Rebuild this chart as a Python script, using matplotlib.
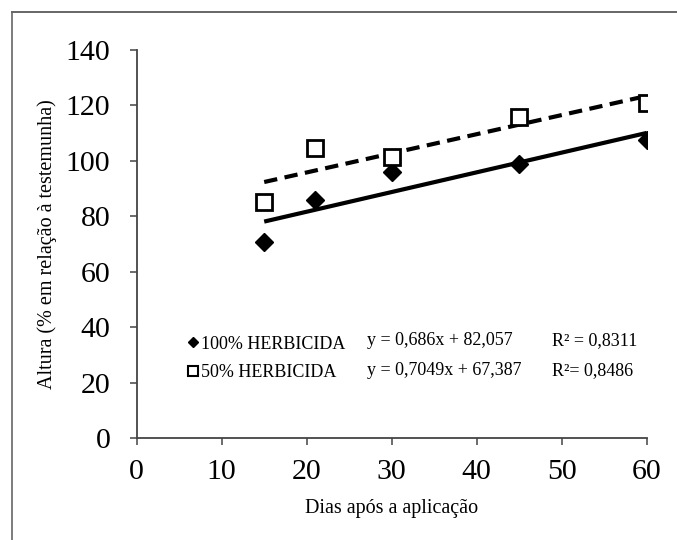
import numpy as np
import matplotlib
matplotlib.use('Agg')
import matplotlib.pyplot as plt
from matplotlib.lines import Line2D

plt.rcParams['font.family'] = ['Liberation Serif', 'DejaVu Serif']

# dados
dias = np.array([15, 21, 30, 45, 60])
h100 = np.array([70.6, 85.7, 95.9, 98.9, 107.6])
h50 = np.array([85.3, 104.7, 101.3, 115.8, 121.0])
lab100 = '100% HERBICIDA'
lab50 = '50% HERBICIDA'
eq100 = 'y = 0,686x + 82,057'
eq50 = 'y = 0,7049x + 67,387'
r100 = 'R² = 0,8311'
r50 = 'R²= 0,8486'

fig = plt.figure(figsize=(6.77, 5.40), dpi=100)
ax = fig.add_axes([0.2019, 0.1889, 0.7534, 0.7185])

# linhas de tendencia (ajuste linear, como no excel)
xx = np.array([dias.min(), dias.max()])
c100 = np.polyfit(dias, h100, 1)
c50 = np.polyfit(dias, h50, 1)
ax.plot(xx, np.polyval(c100, xx), '-', color='black', lw=3, solid_capstyle='butt')
ax.plot(xx, np.polyval(c50, xx), '--', color='black', lw=3, dashes=(3.2, 1.8))

ax.plot(dias, h100, 'D', color='black', ms=9.5, zorder=3)
ax.plot(dias, h50, 's', mfc='white', mec='black', mew=2, ms=11, zorder=3)

ax.set_xlim(0, 60)
ax.set_ylim(0, 140)
ax.set_xticks(range(0, 61, 10))
ax.set_yticks(range(0, 141, 20))
for s in ['top', 'right']:
    ax.spines[s].set_visible(False)
for s in ['left', 'bottom']:
    ax.spines[s].set_color('#444444')
    ax.spines[s].set_linewidth(1.3)
ax.tick_params(axis='both', direction='out', length=5, width=1.1, color='#444444', labelsize=21.5)
ax.tick_params(axis='y', pad=14)
ax.tick_params(axis='x', pad=10)

ax.set_xlabel('Dias após a aplicação', fontsize=14.5, labelpad=10)
ax.set_ylabel('Altura (% em relação à testemunha)', fontsize=14.5, labelpad=6)

# legenda
hd = [Line2D([], [], marker='D', color='black', ls='none', ms=5),
      Line2D([], [], marker='s', mfc='white', mec='black', mew=1.5, ls='none', ms=6.5)]
ax.legend(hd, [lab100, lab50], loc='center left', bbox_to_anchor=(0.085, 0.205),
          frameon=False, fontsize=13, handlelength=0.6, handletextpad=0.15,
          labelspacing=0.65, borderaxespad=0)
ax.text(27.06, 35.1, eq100, fontsize=13, va='center')
ax.text(27.06, 24.5, eq50, fontsize=13, va='center')
ax.text(48.8, 35.1, r100, fontsize=13, va='center')
ax.text(48.8, 24.5, r50, fontsize=13, va='center')

# moldura da imagem
fig.add_artist(Line2D([0.017, 1.0], [0.978, 0.978], color='#666666', lw=1.4))
fig.add_artist(Line2D([0.017, 0.017], [0.0, 0.978], color='#666666', lw=1.2))

fig.savefig('out.png', dpi=100)
